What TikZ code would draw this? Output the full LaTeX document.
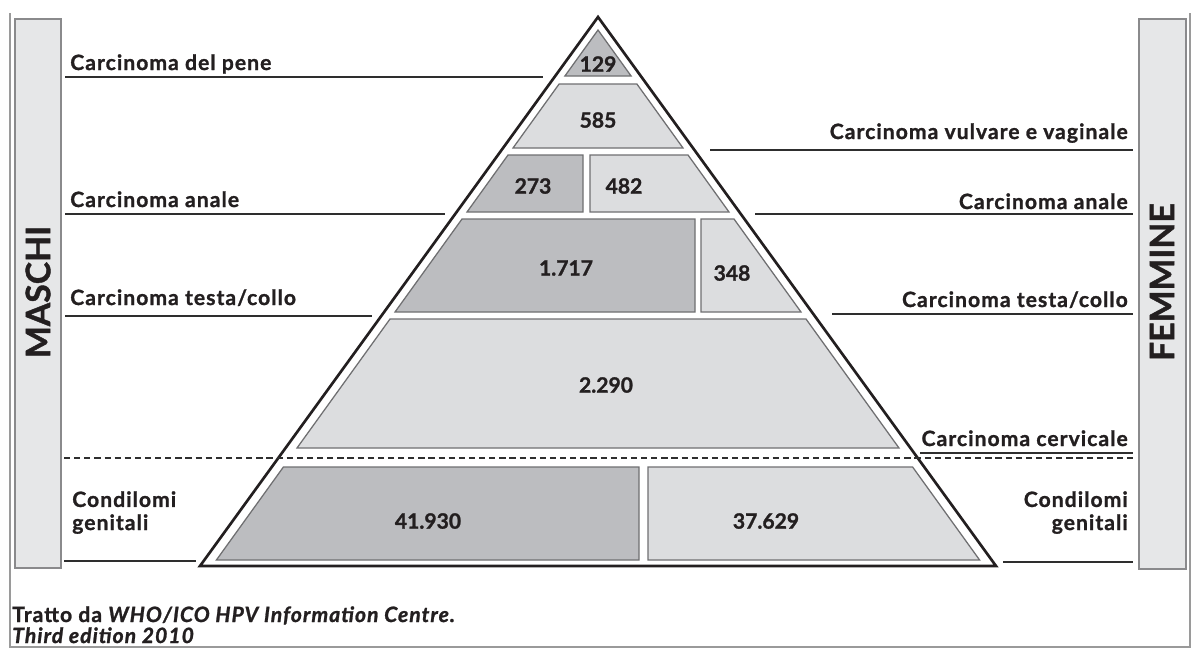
\documentclass[tikz,border=0pt]{standalone}
\usepackage{fontspec}
\setmainfont{Lato}[BoldFeatures={FakeBold=1.2},ItalicFeatures={FakeBold=1.6},BoldItalicFeatures={FakeBold=1.2}]
\definecolor{darkc}{HTML}{BCBDC0}
\definecolor{lightc}{HTML}{DCDDDF}
\definecolor{tierc}{HTML}{6F6F71}
\definecolor{barf}{HTML}{E6E7E8}
\definecolor{barb}{HTML}{8A8A8C}
\definecolor{linec}{HTML}{2E2E2E}
\definecolor{txt}{HTML}{231F20}
\definecolor{framec}{HTML}{9A9A9A}
\begin{document}
\begin{tikzpicture}[x=0.025cm,y=-0.025cm,
  tier/.style={draw=tierc,line width=0.9pt,line join=miter},
  dk/.style={tier,fill=darkc},
  lt/.style={tier,fill=lightc},
  num/.style={font=\fontsize{15}{17}\selectfont\bfseries,text=txt,inner sep=0},
  lab/.style={font=\fontsize{15}{16.4}\selectfont\bfseries\addfontfeature{LetterSpace=5},text=txt,inner sep=0},
  lline/.style={draw=linec,line width=1.8pt},
  bar/.style={draw=barb,fill=barf,line width=0.8pt},
  side/.style={font=\fontsize{24}{26}\selectfont\bfseries,text=txt,rotate=90,inner sep=0},
  foot/.style={font=\fontsize{15}{17}\selectfont\bfseries\addfontfeature{LetterSpace=5},text=txt,inner sep=0}]
\useasboundingbox (0,0) rectangle (1194,660);
% outer frame
\draw[framec,line width=0.8pt] (10,13) -- (10,647) -- (1190,647) -- (1190,13);
% side bars
\draw[bar] (15,19) rectangle (61,568);
\draw[bar] (1139,19) rectangle (1186,569);
\node[side] (maschi) at (38,292) {MASCHI};
\node[side] (femmine) at (1162,282) {FEMMINE};
% tiers
\draw[dk] (598,30) -- (631.1,76) -- (564.9,76) -- cycle;
\draw[lt] (559.1,84) -- (636.9,84) -- (683,148) -- (513,148) -- cycle;
\draw[dk] (508,155) -- (583,155) -- (583,212) -- (467,212) -- cycle;
\draw[lt] (590,155) -- (688,155) -- (729,212) -- (590,212) -- cycle;
\draw[dk] (462,219) -- (695,219) -- (695,312) -- (395,312) -- cycle;
\draw[lt] (701,219) -- (734,219) -- (801,312) -- (701,312) -- cycle;
\draw[lt] (390,319) -- (806,319) -- (899,448) -- (297,448) -- cycle;
\draw[dk] (283.4,467) -- (639,467) -- (639,560) -- (216.4,560) -- cycle;
\draw[lt] (648,467) -- (912.6,467) -- (979.6,560) -- (648,560) -- cycle;
% outer triangle
\draw[txt,line width=1.9pt,line join=miter] (598,17) -- (200,566) -- (996,566) -- cycle;
% numbers
\node[num] (n129) at (598,64) {129};
\node[num] (n585) at (598,120) {585};
\node[num] (n273) at (533,186) {273};
\node[num] (n482) at (624,186) {482};
\node[num] (n1717) at (566,268) {1.717};
\node[num] (n348) at (732,273) {348};
\node[num] (n2290) at (606,385) {2.290};
\node[num] (n41930) at (428,521) {41.930};
\node[num] (n37629) at (766,521) {37.629};
% dashed separator
\coordinate (dL) at (64,458);
\coordinate (dR) at (1136,458);
\draw[linec,line width=1.9pt,dash pattern=on 4.4pt off 2.8pt] (dL) -- (dR);
% left labels
\node[lab,anchor=base west] (lpene) at (70,70) {Carcinoma del pene};
\coordinate (lp1) at (65,77); \coordinate (lp2) at (543,77);
\draw[lline] (lp1) -- (lp2);
\node[lab,anchor=base west] (lanale) at (70,207) {Carcinoma anale};
\coordinate (la1) at (65,214); \coordinate (la2) at (445,214);
\draw[lline] (la1) -- (la2);
\node[lab,anchor=base west] (ltesta) at (70,305) {Carcinoma testa/collo};
\coordinate (lt1) at (65,316); \coordinate (lt2) at (372,316);
\draw[lline] (lt1) -- (lt2);
\node[lab,anchor=base west,align=left] (lcond) at (72,530) {Condilomi\\genitali};
\coordinate (lc1) at (64,561); \coordinate (lc2) at (196,561);
\draw[lline] (lc1) -- (lc2);
% right labels
\node[lab,anchor=base east] (rvulv) at (1128,139) {Carcinoma vulvare e vaginale};
\coordinate (rv1) at (710,150); \coordinate (rv2) at (1133,150);
\draw[lline] (rv1) -- (rv2);
\node[lab,anchor=base east] (ranale) at (1128,209) {Carcinoma anale};
\coordinate (ra1) at (755,214); \coordinate (ra2) at (1133,214);
\draw[lline] (ra1) -- (ra2);
\node[lab,anchor=base east] (rtesta) at (1128,307) {Carcinoma testa/collo};
\coordinate (rt1) at (832,314); \coordinate (rt2) at (1133,314);
\draw[lline] (rt1) -- (rt2);
\node[lab,anchor=base east] (rcerv) at (1128,446) {Carcinoma cervicale};
\coordinate (rc1) at (920,453); \coordinate (rc2) at (1133,453);
\draw[lline] (rc1) -- (rc2);
\node[lab,anchor=base east,align=right] (rcond) at (1128,530) {Condilomi\\genitali};
\coordinate (rg1) at (1003,562); \coordinate (rg2) at (1133,562);
\draw[lline] (rg1) -- (rg2);
% footer
\node[foot,anchor=base west] (f1) at (12,622) {Tratto da \textit{WHO/ICO HPV Information Centre.}};
\node[foot,anchor=base west] (f2) at (12,643) {\textit{Third edition 2010}};
\end{tikzpicture}
\end{document}
